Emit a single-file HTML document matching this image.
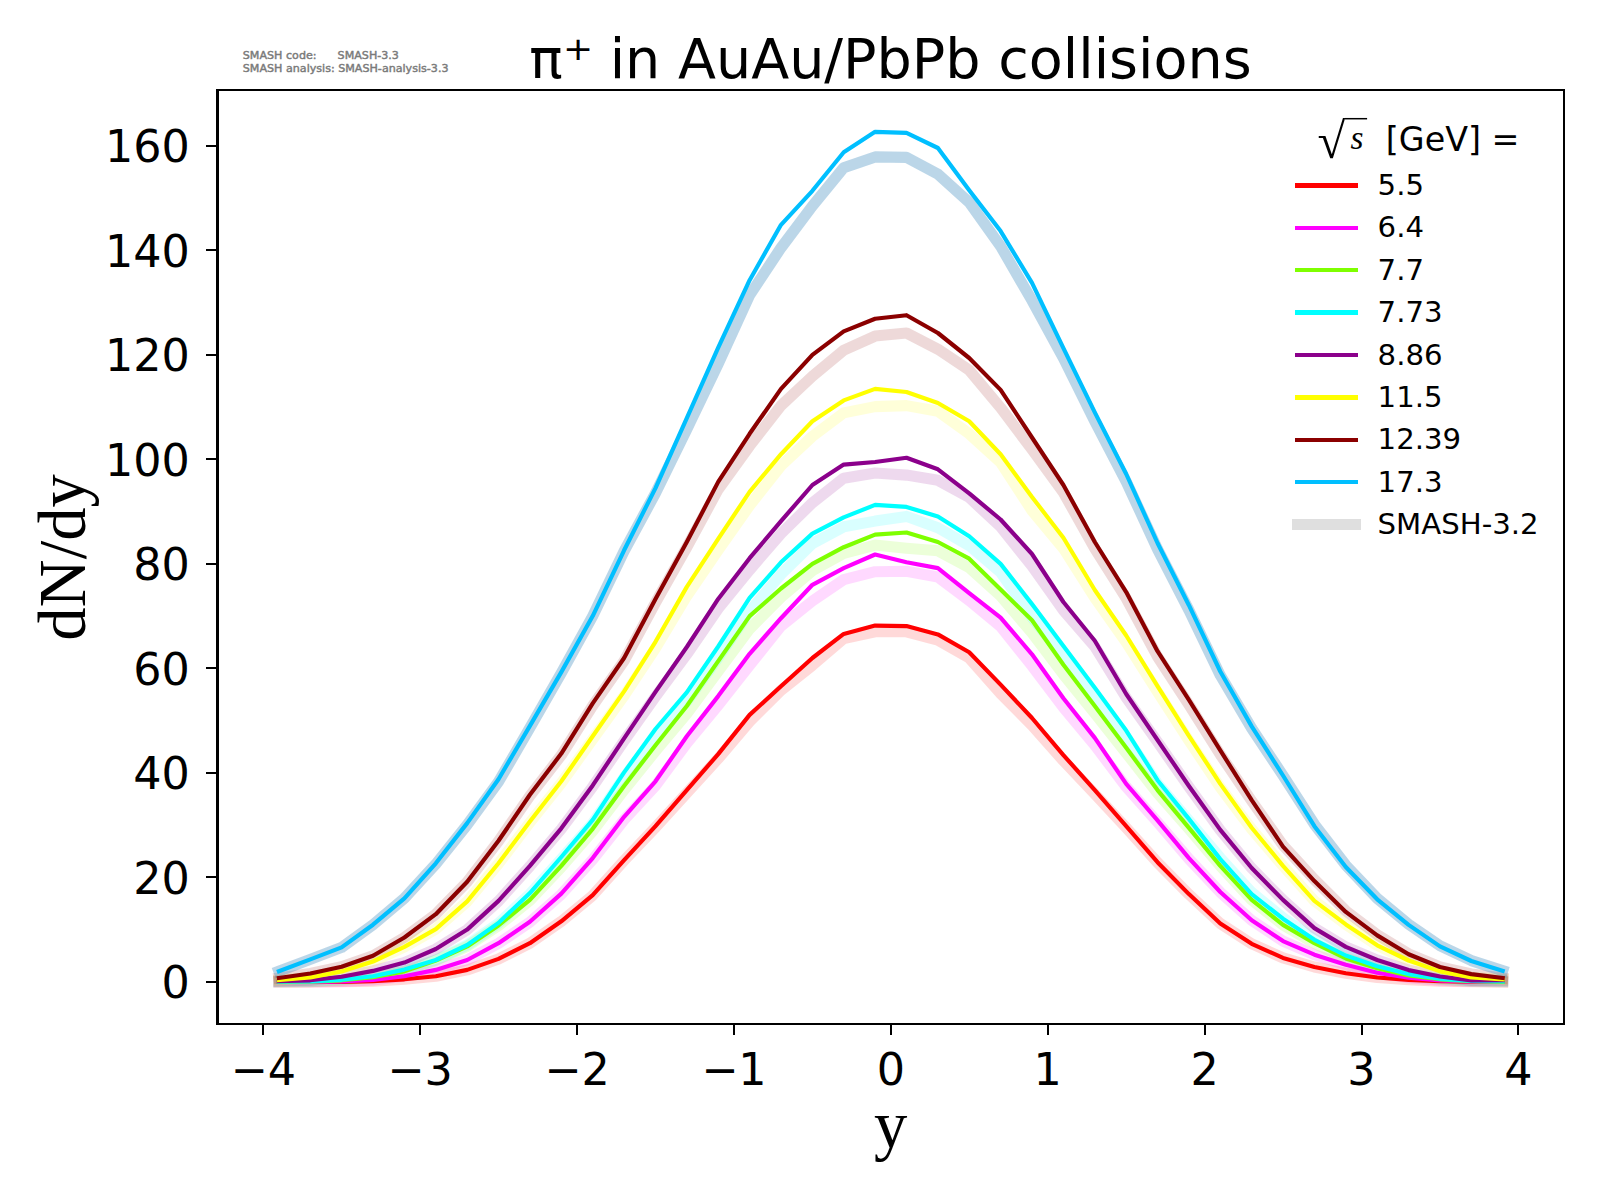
<!DOCTYPE html>
<html><head><meta charset="utf-8"><title>pi+ dN/dy</title>
<style>html,body{margin:0;padding:0;background:#fff}svg{display:block}text{font-family:"DejaVu Sans","Liberation Sans",sans-serif;fill:#000}.se{font-family:"Liberation Serif","DejaVu Serif",serif}</style></head>
<body>
<svg width="1600" height="1200" viewBox="0 0 1600 1200">
<rect width="1600" height="1200" fill="#fff"/>
<g fill="none" stroke-linecap="square" stroke-linejoin="round">
<path d="M278.9 981.9 L310.3 981.9 L341.6 981.8 L373.0 981.2 L404.4 979.3 L435.8 976.2 L467.2 969.9 L498.5 959.0 L529.9 943.3 L561.3 921.4 L592.7 895.4 L624.1 860.5 L655.5 827.4 L686.8 793.0 L718.2 758.6 L749.6 721.6 L781.0 690.3 L812.4 665.3 L843.7 638.6 L875.1 631.8 L906.5 631.8 L937.9 640.2 L969.2 658.0 L1000.6 693.5 L1032.0 725.4 L1063.4 760.8 L1094.8 794.0 L1126.2 827.8 L1157.5 862.5 L1188.9 894.3 L1220.3 923.5 L1251.7 943.8 L1283.0 957.9 L1314.4 967.0 L1345.8 973.3 L1377.2 977.5 L1408.6 979.8 L1440.0 981.1 L1471.3 981.7 L1502.7 981.9" stroke="#ff0000" stroke-opacity="0.15" stroke-width="11.1"/>
<path d="M278.9 981.9 L310.3 981.9 L341.6 981.4 L373.0 980.0 L404.4 976.2 L435.8 969.9 L467.2 960.0 L498.5 943.4 L529.9 922.2 L561.3 894.3 L592.7 859.6 L624.1 819.8 L655.5 785.7 L686.8 743.2 L718.2 705.1 L749.6 665.3 L781.0 626.1 L812.4 601.0 L843.7 579.6 L875.1 571.7 L906.5 571.2 L937.9 577.0 L969.2 600.5 L1000.6 626.6 L1032.0 665.8 L1063.4 707.4 L1094.8 745.2 L1126.2 786.8 L1157.5 822.1 L1188.9 858.9 L1220.3 892.3 L1251.7 920.4 L1283.0 941.2 L1314.4 954.7 L1345.8 964.7 L1377.2 972.8 L1408.6 977.7 L1440.0 980.3 L1471.3 981.4 L1502.7 981.9" stroke="#ff00ff" stroke-opacity="0.15" stroke-width="11.1"/>
<path d="M278.9 981.9 L310.3 981.6 L341.6 980.3 L373.0 977.2 L404.4 971.4 L435.8 960.5 L467.2 946.4 L498.5 925.7 L529.9 900.5 L561.3 867.1 L592.7 831.1 L624.1 789.9 L655.5 751.1 L686.8 713.8 L718.2 671.2 L749.6 629.0 L781.0 597.3 L812.4 570.7 L843.7 553.5 L875.1 545.1 L906.5 548.2 L937.9 550.8 L969.2 567.6 L1000.6 595.8 L1032.0 633.0 L1063.4 674.5 L1094.8 713.3 L1126.2 753.0 L1157.5 793.0 L1188.9 828.9 L1220.3 865.9 L1251.7 899.9 L1283.0 924.9 L1314.4 943.2 L1345.8 958.4 L1377.2 968.3 L1408.6 975.4 L1440.0 979.3 L1471.3 981.1 L1502.7 981.9" stroke="#7fff00" stroke-opacity="0.15" stroke-width="11.1"/>
<path d="M278.9 981.7 L310.3 981.4 L341.6 979.8 L373.0 976.2 L404.4 969.6 L435.8 960.0 L467.2 945.1 L498.5 923.2 L529.9 894.0 L561.3 858.9 L592.7 823.1 L624.1 777.3 L655.5 736.1 L686.8 701.2 L718.2 657.4 L749.6 611.3 L781.0 574.4 L812.4 543.5 L843.7 526.8 L875.1 521.1 L906.5 516.4 L937.9 527.8 L969.2 545.6 L1000.6 572.3 L1032.0 617.4 L1063.4 656.6 L1094.8 696.1 L1126.2 736.9 L1157.5 783.7 L1188.9 820.5 L1220.3 857.9 L1251.7 892.4 L1283.0 917.7 L1314.4 939.3 L1345.8 955.3 L1377.2 966.1 L1408.6 974.0 L1440.0 978.8 L1471.3 980.9 L1502.7 981.4" stroke="#00ffff" stroke-opacity="0.15" stroke-width="11.1"/>
<path d="M278.9 981.0 L310.3 980.3 L341.6 976.7 L373.0 970.9 L404.4 962.6 L435.8 949.0 L467.2 929.7 L498.5 901.1 L529.9 866.3 L561.3 829.0 L592.7 786.7 L624.1 740.8 L655.5 696.6 L686.8 654.3 L718.2 608.5 L749.6 570.0 L781.0 533.6 L812.4 502.8 L843.7 478.2 L875.1 473.0 L906.5 475.1 L937.9 480.3 L969.2 497.5 L1000.6 526.8 L1032.0 566.0 L1063.4 610.4 L1094.8 646.6 L1126.2 697.6 L1157.5 741.9 L1188.9 786.9 L1220.3 830.3 L1251.7 868.2 L1283.0 900.0 L1314.4 928.1 L1345.8 946.9 L1377.2 960.0 L1408.6 970.1 L1440.0 976.5 L1471.3 980.5 L1502.7 980.3" stroke="#8b008b" stroke-opacity="0.15" stroke-width="11.1"/>
<path d="M278.9 980.0 L310.3 977.5 L341.6 971.4 L373.0 961.5 L404.4 946.9 L435.8 929.1 L467.2 901.5 L498.5 863.7 L529.9 822.5 L561.3 783.0 L592.7 739.2 L624.1 695.7 L655.5 648.2 L686.8 596.0 L718.2 550.1 L749.6 505.5 L781.0 465.7 L812.4 436.4 L843.7 412.9 L875.1 406.6 L906.5 405.6 L937.9 411.3 L969.2 433.8 L1000.6 462.5 L1032.0 510.6 L1063.4 548.4 L1094.8 597.9 L1126.2 642.2 L1157.5 691.8 L1188.9 740.4 L1220.3 787.4 L1251.7 829.1 L1283.0 865.9 L1314.4 900.9 L1345.8 924.4 L1377.2 945.3 L1408.6 960.5 L1440.0 971.4 L1471.3 977.5 L1502.7 979.3" stroke="#ffff00" stroke-opacity="0.15" stroke-width="11.1"/>
<path d="M278.9 978.0 L310.3 973.5 L341.6 966.7 L373.0 955.8 L404.4 937.5 L435.8 914.2 L467.2 881.9 L498.5 841.2 L529.9 795.8 L561.3 755.2 L592.7 705.7 L624.1 660.9 L655.5 602.7 L686.8 547.2 L718.2 489.4 L749.6 445.9 L781.0 405.6 L812.4 376.3 L843.7 350.2 L875.1 336.1 L906.5 333.0 L937.9 349.2 L969.2 370.1 L1000.6 407.7 L1032.0 449.4 L1063.4 492.5 L1094.8 548.6 L1126.2 598.3 L1157.5 656.6 L1188.9 704.6 L1220.3 754.6 L1251.7 801.0 L1283.0 845.2 L1314.4 879.5 L1345.8 910.8 L1377.2 934.7 L1408.6 953.8 L1440.0 966.9 L1471.3 974.0 L1502.7 978.0" stroke="#8b0000" stroke-opacity="0.15" stroke-width="11.1"/>
<path d="M278.9 971.2 L310.3 959.4 L341.6 947.4 L373.0 924.7 L404.4 898.3 L435.8 864.1 L467.2 824.8 L498.5 781.8 L529.9 727.8 L561.3 673.1 L592.7 616.1 L624.1 551.2 L655.5 493.1 L686.8 429.4 L718.2 363.8 L749.6 295.3 L781.0 247.8 L812.4 206.0 L843.7 167.8 L875.1 156.9 L906.5 157.4 L937.9 174.1 L969.2 202.3 L1000.6 246.2 L1032.0 300.6 L1063.4 358.0 L1094.8 421.3 L1126.2 481.6 L1157.5 549.1 L1188.9 610.1 L1220.3 675.3 L1251.7 728.4 L1283.0 775.5 L1314.4 824.3 L1345.8 865.2 L1377.2 898.4 L1408.6 924.2 L1440.0 945.8 L1471.3 960.6 L1502.7 970.7" stroke="#1f77b4" stroke-opacity="0.30" stroke-width="11.1"/>
<path d="M278.9 981.9 L310.3 981.9 L341.6 981.8 L373.0 981.2 L404.4 979.3 L435.8 976.2 L467.2 969.9 L498.5 958.9 L529.9 943.2 L561.3 921.3 L592.7 895.2 L624.1 860.2 L655.5 826.2 L686.8 790.1 L718.2 754.1 L749.6 714.9 L781.0 686.2 L812.4 658.0 L843.7 633.9 L875.1 625.6 L906.5 626.1 L937.9 634.4 L969.2 652.2 L1000.6 684.6 L1032.0 718.0 L1063.4 755.1 L1094.8 790.1 L1126.2 826.2 L1157.5 862.2 L1188.9 894.1 L1220.3 923.4 L1251.7 943.8 L1283.0 957.9 L1314.4 967.0 L1345.8 973.3 L1377.2 977.5 L1408.6 979.8 L1440.0 981.1 L1471.3 981.7 L1502.7 981.9" stroke="#ff0000" stroke-width="4.17"/>
<path d="M278.9 981.9 L310.3 981.9 L341.6 981.4 L373.0 980.0 L404.4 976.2 L435.8 969.9 L467.2 960.0 L498.5 943.2 L529.9 921.8 L561.3 893.6 L592.7 858.1 L624.1 816.8 L655.5 781.3 L686.8 736.3 L718.2 696.1 L749.6 653.8 L781.0 618.2 L812.4 584.8 L843.7 568.1 L875.1 554.5 L906.5 562.3 L937.9 568.1 L969.2 593.2 L1000.6 617.7 L1032.0 654.3 L1063.4 698.2 L1094.8 737.9 L1126.2 783.9 L1157.5 820.4 L1188.9 858.1 L1220.3 892.0 L1251.7 920.2 L1283.0 941.1 L1314.4 954.7 L1345.8 964.7 L1377.2 972.8 L1408.6 977.7 L1440.0 980.3 L1471.3 981.4 L1502.7 981.9" stroke="#ff00ff" stroke-width="4.17"/>
<path d="M278.9 981.9 L310.3 981.6 L341.6 980.3 L373.0 977.2 L404.4 971.4 L435.8 960.5 L467.2 946.4 L498.5 925.5 L529.9 899.9 L561.3 865.9 L592.7 828.8 L624.1 786.0 L655.5 745.2 L686.8 706.0 L718.2 661.1 L749.6 616.1 L781.0 588.5 L812.4 563.9 L843.7 547.2 L875.1 534.6 L906.5 532.5 L937.9 542.0 L969.2 558.7 L1000.6 589.5 L1032.0 620.3 L1063.4 664.7 L1094.8 706.0 L1126.2 747.8 L1157.5 790.1 L1188.9 827.8 L1220.3 865.9 L1251.7 899.9 L1283.0 924.9 L1314.4 943.2 L1345.8 958.4 L1377.2 968.3 L1408.6 975.4 L1440.0 979.3 L1471.3 981.1 L1502.7 981.9" stroke="#7fff00" stroke-width="4.17"/>
<path d="M278.9 981.7 L310.3 981.4 L341.6 979.8 L373.0 976.2 L404.4 969.6 L435.8 960.0 L467.2 945.0 L498.5 922.9 L529.9 893.1 L561.3 857.0 L592.7 819.9 L624.1 772.4 L655.5 729.0 L686.8 692.4 L718.2 646.5 L749.6 597.9 L781.0 562.3 L812.4 533.6 L843.7 517.4 L875.1 504.9 L906.5 506.9 L937.9 516.4 L969.2 536.2 L1000.6 563.9 L1032.0 604.1 L1063.4 645.9 L1094.8 687.7 L1126.2 730.6 L1157.5 780.2 L1188.9 818.9 L1220.3 859.1 L1251.7 894.1 L1283.0 918.7 L1314.4 939.8 L1345.8 955.5 L1377.2 966.2 L1408.6 974.1 L1440.0 978.8 L1471.3 980.9 L1502.7 981.4" stroke="#00ffff" stroke-width="4.17"/>
<path d="M278.9 981.0 L310.3 980.3 L341.6 976.7 L373.0 970.9 L404.4 962.6 L435.8 949.0 L467.2 929.6 L498.5 900.9 L529.9 865.9 L561.3 828.3 L592.7 785.4 L624.1 738.4 L655.5 691.9 L686.8 647.0 L718.2 598.9 L749.6 558.2 L781.0 521.1 L812.4 485.0 L843.7 464.6 L875.1 462.0 L906.5 457.8 L937.9 469.3 L969.2 493.4 L1000.6 519.5 L1032.0 554.0 L1063.4 602.0 L1094.8 640.7 L1126.2 694.0 L1157.5 740.0 L1188.9 786.0 L1220.3 829.9 L1251.7 868.0 L1283.0 899.9 L1314.4 928.1 L1345.8 946.9 L1377.2 960.0 L1408.6 970.1 L1440.0 976.5 L1471.3 980.5 L1502.7 980.3" stroke="#8b008b" stroke-width="4.17"/>
<path d="M278.9 980.0 L310.3 977.5 L341.6 971.4 L373.0 961.5 L404.4 946.9 L435.8 929.1 L467.2 901.4 L498.5 863.3 L529.9 821.5 L561.3 781.3 L592.7 736.3 L624.1 691.4 L655.5 641.8 L686.8 586.9 L718.2 538.8 L749.6 491.8 L781.0 454.2 L812.4 421.3 L843.7 400.4 L875.1 388.9 L906.5 392.0 L937.9 403.0 L969.2 421.3 L1000.6 454.2 L1032.0 497.0 L1063.4 537.8 L1094.8 590.0 L1126.2 635.5 L1157.5 686.2 L1188.9 735.8 L1220.3 783.9 L1251.7 827.8 L1283.0 865.9 L1314.4 900.9 L1345.8 924.4 L1377.2 945.3 L1408.6 960.5 L1440.0 971.4 L1471.3 977.5 L1502.7 979.3" stroke="#ffff00" stroke-width="4.17"/>
<path d="M278.9 978.0 L310.3 973.5 L341.6 966.7 L373.0 955.8 L404.4 937.5 L435.8 914.2 L467.2 881.8 L498.5 840.8 L529.9 794.8 L561.3 753.6 L592.7 703.4 L624.1 658.0 L655.5 598.9 L686.8 542.0 L718.2 481.9 L749.6 433.8 L781.0 388.9 L812.4 354.9 L843.7 331.4 L875.1 318.8 L906.5 315.2 L937.9 333.0 L969.2 358.0 L1000.6 389.9 L1032.0 437.5 L1063.4 485.0 L1094.8 542.0 L1126.2 592.1 L1157.5 651.2 L1188.9 699.8 L1220.3 750.4 L1251.7 800.1 L1283.0 846.6 L1314.4 881.1 L1345.8 911.9 L1377.2 935.4 L1408.6 954.2 L1440.0 967.0 L1471.3 974.1 L1502.7 978.0" stroke="#8b0000" stroke-width="4.17"/>
<path d="M278.9 971.2 L310.3 959.4 L341.6 947.4 L373.0 924.7 L404.4 898.3 L435.8 863.3 L467.2 823.1 L498.5 779.2 L529.9 725.9 L561.3 672.1 L592.7 616.1 L624.1 550.3 L655.5 488.1 L686.8 418.1 L718.2 347.6 L749.6 280.2 L781.0 224.8 L812.4 190.8 L843.7 152.2 L875.1 131.8 L906.5 132.8 L937.9 148.0 L969.2 190.3 L1000.6 231.1 L1032.0 282.8 L1063.4 348.1 L1094.8 412.4 L1126.2 474.0 L1157.5 543.0 L1188.9 605.2 L1220.3 671.5 L1251.7 726.4 L1283.0 775.5 L1314.4 826.2 L1345.8 867.0 L1377.2 899.3 L1408.6 924.9 L1440.0 946.4 L1471.3 961.0 L1502.7 970.9" stroke="#00bfff" stroke-width="4.17"/>
</g>
<g fill="#000" shape-rendering="crispEdges">
<rect x="216" y="89" width="3" height="936"/><rect x="1563" y="89" width="2" height="936"/><rect x="216" y="89" width="1349" height="2"/><rect x="216" y="1023" width="1349" height="2"/>
<rect x="262" y="1025" width="2" height="10"/>
<rect x="419" y="1025" width="2" height="10"/>
<rect x="576" y="1025" width="2" height="10"/>
<rect x="733" y="1025" width="2" height="10"/>
<rect x="890" y="1025" width="2" height="10"/>
<rect x="1047" y="1025" width="2" height="10"/>
<rect x="1204" y="1025" width="2" height="10"/>
<rect x="1361" y="1025" width="2" height="10"/>
<rect x="1517" y="1025" width="2" height="10"/>
<rect x="206" y="981" width="10" height="2"/>
<rect x="206" y="876" width="10" height="2"/>
<rect x="206" y="772" width="10" height="2"/>
<rect x="206" y="667" width="10" height="2"/>
<rect x="206" y="563" width="10" height="2"/>
<rect x="206" y="458" width="10" height="2"/>
<rect x="206" y="354" width="10" height="2"/>
<rect x="206" y="249" width="10" height="2"/>
<rect x="206" y="145" width="10" height="2"/>
</g>
<g font-size="44.44px">
<text x="263.2" y="1085" text-anchor="middle">−4</text>
<text x="420.1" y="1085" text-anchor="middle">−3</text>
<text x="577.0" y="1085" text-anchor="middle">−2</text>
<text x="733.9" y="1085" text-anchor="middle">−1</text>
<text x="890.8" y="1085" text-anchor="middle">0</text>
<text x="1047.7" y="1085" text-anchor="middle">1</text>
<text x="1204.6" y="1085" text-anchor="middle">2</text>
<text x="1361.5" y="1085" text-anchor="middle">3</text>
<text x="1518.4" y="1085" text-anchor="middle">4</text>
<text x="189.8" y="998.1" text-anchor="end">0</text>
<text x="189.8" y="893.6" text-anchor="end">20</text>
<text x="189.8" y="789.1" text-anchor="end">40</text>
<text x="189.8" y="684.6" text-anchor="end">60</text>
<text x="189.8" y="580.1" text-anchor="end">80</text>
<text x="189.8" y="475.6" text-anchor="end">100</text>
<text x="189.8" y="371.1" text-anchor="end">120</text>
<text x="189.8" y="266.6" text-anchor="end">140</text>
<text x="189.8" y="162.1" text-anchor="end">160</text>
</g>
<text class="se" x="890.6" y="1148" font-size="66.67px" text-anchor="middle">y</text>
<text class="se" transform="translate(84.7 557.5) rotate(-90)" font-size="66.67px" text-anchor="middle">dN/dy</text>
<text font-size="55.56px" y="78.1"><tspan x="529.2">π</tspan><tspan x="592" y="78.1"> in AuAu/PbPb collisions</tspan></text>
<text transform="translate(563.1 60) scale(1 0.87)" font-size="36px">+</text>
<g font-size="11.11px" stroke="#7a7a7a" stroke-width="0.45" stroke-linejoin="round">
<text x="242.8" y="58.9" style="fill:#7a7a7a">SMASH code:</text><text x="337.6" y="58.9" style="fill:#7a7a7a">SMASH-3.3</text>
<text x="242.8" y="72.1" style="fill:#7a7a7a">SMASH analysis: SMASH-analysis-3.3</text>
</g>
<g shape-rendering="crispEdges">
<rect x="1295" y="183" width="63" height="5" fill="#ff0000"/>
<rect x="1295" y="226" width="63" height="4" fill="#ff00ff"/>
<rect x="1295" y="268" width="63" height="4" fill="#7fff00"/>
<rect x="1295" y="310" width="63" height="5" fill="#00ffff"/>
<rect x="1295" y="353" width="63" height="4" fill="#8b008b"/>
<rect x="1295" y="395" width="63" height="5" fill="#ffff00"/>
<rect x="1295" y="438" width="63" height="4" fill="#8b0000"/>
<rect x="1295" y="480" width="63" height="4" fill="#00bfff"/>
<rect x="1292" y="519" width="69" height="11" fill="#808080" fill-opacity="0.25"/>
</g>
<g font-size="29.17px">
<text x="1377.6" y="195.0">5.5</text>
<text x="1377.6" y="237.4">6.4</text>
<text x="1377.6" y="279.8">7.7</text>
<text x="1377.6" y="322.2">7.73</text>
<text x="1377.6" y="364.6">8.86</text>
<text x="1377.6" y="407.0">11.5</text>
<text x="1377.6" y="449.4">12.39</text>
<text x="1377.6" y="491.8">17.3</text>
<text x="1377.6" y="534.2">SMASH-3.2</text>
</g>
<text x="1385.8" y="150.5" font-size="33.33px">[GeV] =</text>
<text class="se" x="1350.5" y="148.8" font-size="33.33px" font-style="italic">s</text>
<text class="se" x="1317.6" y="158.4" font-size="50.5px">√</text>
<path d="M1345 118.7 H1367.1" stroke="#000" stroke-width="1.5" fill="none"/>
</svg>
</body></html>
